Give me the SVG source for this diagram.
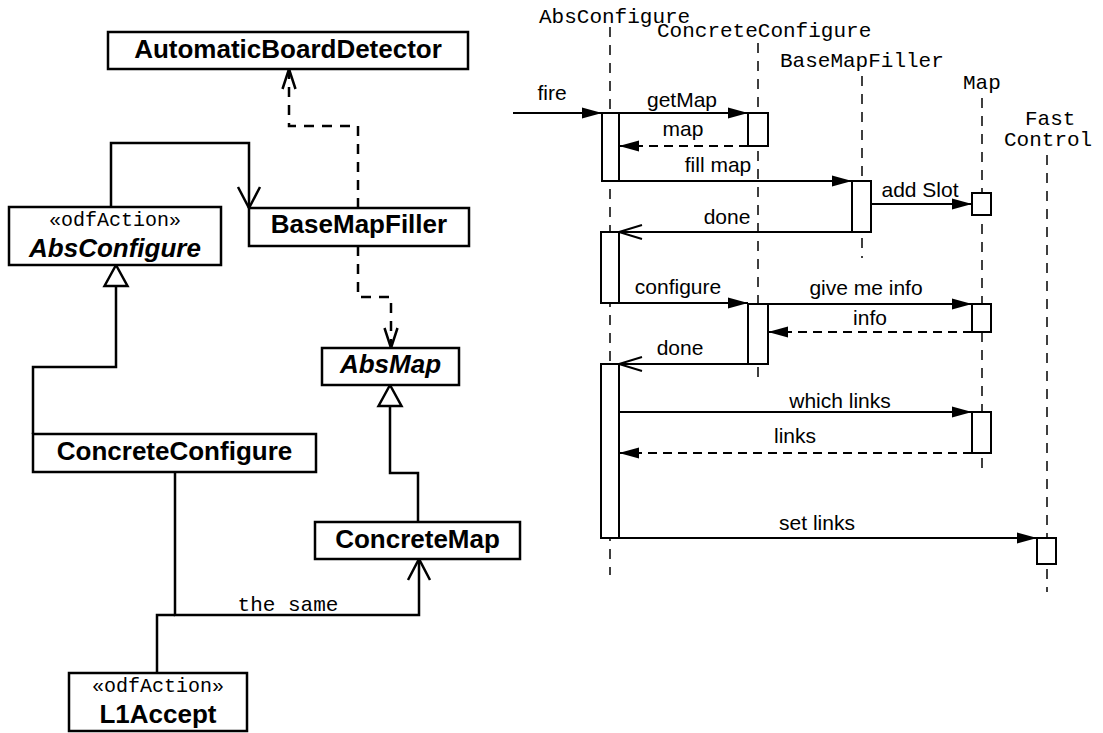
<svg xmlns="http://www.w3.org/2000/svg" width="1103" height="733" viewBox="0 0 1103 733">
<style>
.box{fill:#fff;stroke:#000;stroke-width:2.5}
.cn{font-family:"Liberation Sans",Arial,sans-serif;font-weight:bold;font-size:26px;text-anchor:middle}
.ab{font-style:italic}
.st{font-family:"Liberation Mono","Courier New",monospace;font-size:20px;text-anchor:middle}
.mono{font-family:"Liberation Mono","Courier New",monospace;font-size:21px}
.lbl{font-family:"Liberation Sans",Arial,sans-serif;font-size:21px;text-anchor:middle}
.cl{fill:none;stroke:#000;stroke-width:2.5}
.cd{fill:none;stroke:#000;stroke-width:2.5;stroke-dasharray:10 8}
.life{fill:none;stroke:#000;stroke-width:1.5;stroke-dasharray:10 8}
.act{fill:#fff;stroke:#000;stroke-width:2}
.msg{fill:none;stroke:#000;stroke-width:2}
.ret{fill:none;stroke:#000;stroke-width:2;stroke-dasharray:9 6}
</style>
<defs>
<marker id="fa" markerUnits="userSpaceOnUse" viewBox="0 0 20 12" refX="20" refY="6" markerWidth="20" markerHeight="12" orient="auto" overflow="visible"><path d="M0,0.5 L20,6 L0,11.5 Z" fill="#000"/></marker>
<marker id="oa" markerUnits="userSpaceOnUse" viewBox="0 0 23 14" refX="23" refY="7" markerWidth="23" markerHeight="14" orient="auto" overflow="visible"><path d="M0,0 L23,7 L0,14" fill="none" stroke="#000" stroke-width="2"/></marker>
<marker id="ca" markerUnits="userSpaceOnUse" viewBox="0 0 21 22" refX="21" refY="11" markerWidth="21" markerHeight="22" orient="auto" overflow="visible"><path d="M0,0 L21,11 L0,22" fill="none" stroke="#000" stroke-width="2.5"/></marker>
<marker id="da" markerUnits="userSpaceOnUse" viewBox="0 0 20 13" refX="20" refY="6.5" markerWidth="20" markerHeight="13" orient="auto" overflow="visible"><path d="M0,0 L20,6.5 L0,13" fill="none" stroke="#000" stroke-width="2.5"/></marker>
<marker id="tri" markerUnits="userSpaceOnUse" viewBox="0 0 21 23" refX="21" refY="11.5" markerWidth="21" markerHeight="23" orient="auto" overflow="visible"><path d="M0,0 L21,11.5 L0,23 Z" fill="#fff" stroke="#000" stroke-width="2.5"/></marker>
</defs>

<g id="class-connectors">
<path class="cd" d="M358,208 V126 H289 V69" marker-end="url(#da)"/>
<path class="cd" d="M358,246 V297 H391 V348" marker-end="url(#da)"/>
<path class="cl" d="M111,207 V143 H249 V208" marker-end="url(#ca)"/>
<path class="cl" d="M33,434 V367 H116 V265" marker-end="url(#tri)"/>
<path class="cl" d="M418,522 V473 H390 V385" marker-end="url(#tri)"/>
<path class="cl" d="M157,673 V615 H175"/>
<path class="cl" d="M175,472 V615 H419 V559" marker-end="url(#ca)"/>
<text class="mono" x="288" y="611" text-anchor="middle">the same</text>
</g>

<g id="AutomaticBoardDetector"><rect class="box" x="108" y="32" width="360" height="37"/><text class="cn" x="288" y="58">AutomaticBoardDetector</text></g>
<g id="AbsConfigure"><rect class="box" x="9" y="207" width="212" height="58"/><text class="st" x="115" y="226">«odfAction»</text><text class="cn ab" x="115" y="257">AbsConfigure</text></g>
<g id="BaseMapFiller"><rect class="box" x="249" y="208" width="220" height="38"/><text class="cn" x="359" y="233">BaseMapFiller</text></g>
<g id="AbsMap"><rect class="box" x="322" y="348" width="137" height="37"/><text class="cn ab" x="390.5" y="373">AbsMap</text></g>
<g id="ConcreteConfigure"><rect class="box" x="33" y="434" width="283" height="38"/><text class="cn" x="174.5" y="460">ConcreteConfigure</text></g>
<g id="ConcreteMap"><rect class="box" x="315" y="522" width="205" height="37"/><text class="cn" x="417.5" y="548">ConcreteMap</text></g>
<g id="L1Accept"><rect class="box" x="69" y="673" width="178" height="58"/><text class="st" x="158" y="692">«odfAction»</text><text class="cn" x="158" y="723">L1Accept</text></g>

<g id="lifelines">
<text class="mono" x="539" y="23">AbsConfigure</text>
<text class="mono" x="657" y="37">ConcreteConfigure</text>
<text class="mono" x="780" y="67">BaseMapFiller</text>
<text class="mono" x="963" y="89">Map</text>
<text class="mono" x="1025" y="125">Fast</text>
<text class="mono" x="1004" y="146">Control</text>
<path class="life" d="M610,27 V575"/>
<path class="life" d="M758,43 V380"/>
<path class="life" d="M862,76 V258"/>
<path class="life" d="M982,98 V472"/>
<path class="life" d="M1047,155 V592"/>
</g>

<g id="activations">
<rect class="act" x="602" y="113" width="17" height="68"/>
<rect class="act" x="748" y="113" width="20" height="33"/>
<rect class="act" x="852" y="181" width="19" height="51"/>
<rect class="act" x="972" y="193" width="19" height="22"/>
<rect class="act" x="601" y="232" width="18" height="71"/>
<rect class="act" x="748" y="304" width="20" height="60"/>
<rect class="act" x="972" y="304" width="19" height="28"/>
<rect class="act" x="601" y="364" width="18" height="174"/>
<rect class="act" x="972" y="412" width="19" height="41"/>
<rect class="act" x="1037" y="538" width="19" height="26"/>
</g>

<g id="messages">
<path class="msg" d="M513,113 H602" marker-end="url(#fa)"/>
<text class="lbl" x="552" y="100">fire</text>
<path class="msg" d="M619,113 H748" marker-end="url(#fa)"/>
<text class="lbl" x="682" y="107">getMap</text>
<path class="ret" d="M748,146 H619" marker-end="url(#fa)"/>
<text class="lbl" x="683" y="136">map</text>
<path class="msg" d="M602,181 H852" marker-end="url(#fa)"/>
<text class="lbl" x="718" y="172">fill map</text>
<path class="msg" d="M871,204 H972" marker-end="url(#fa)"/>
<text class="lbl" x="920" y="197">add Slot</text>
<path class="msg" d="M852,232 H619" marker-end="url(#oa)"/>
<text class="lbl" x="727" y="224">done</text>
<path class="msg" d="M601,303 H748" marker-end="url(#fa)"/>
<text class="lbl" x="678" y="294">configure</text>
<path class="msg" d="M768,304 H972" marker-end="url(#fa)"/>
<text class="lbl" x="866" y="295">give me info</text>
<path class="ret" d="M972,332 H768" marker-end="url(#fa)"/>
<text class="lbl" x="870" y="325">info</text>
<path class="msg" d="M748,364 H619" marker-end="url(#oa)"/>
<text class="lbl" x="680" y="355">done</text>
<path class="msg" d="M619,412 H972" marker-end="url(#fa)"/>
<text class="lbl" x="840" y="408">which links</text>
<path class="ret" d="M972,453 H619" marker-end="url(#fa)"/>
<text class="lbl" x="795" y="443">links</text>
<path class="msg" d="M601,538 H1037" marker-end="url(#fa)"/>
<text class="lbl" x="817" y="530">set links</text>
</g>
</svg>
